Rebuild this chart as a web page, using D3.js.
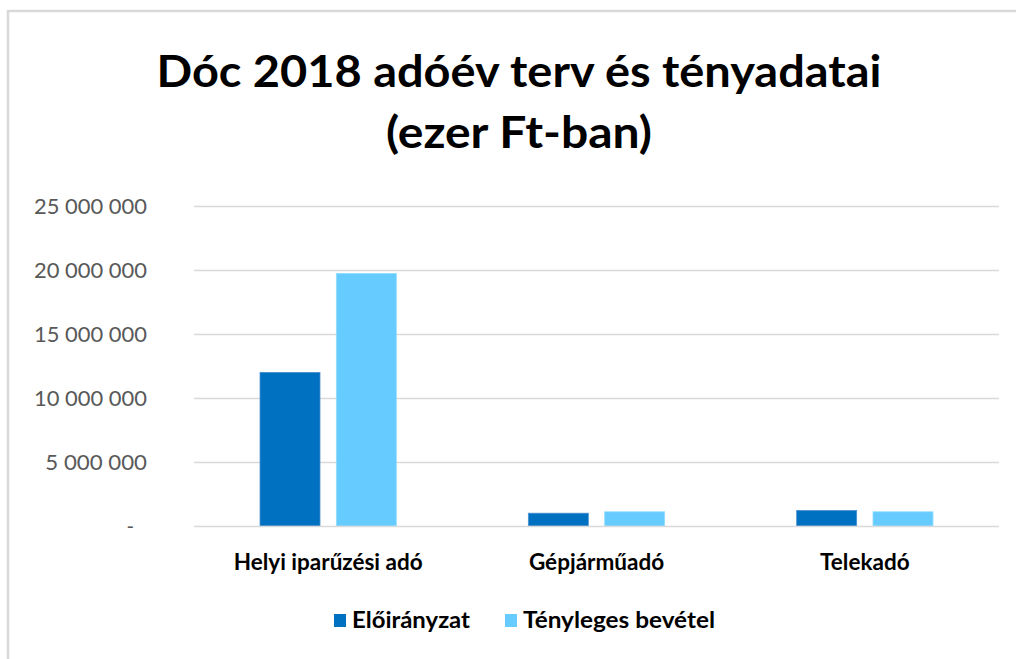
<!DOCTYPE html>
<html>
<head>
<meta charset="utf-8">
<script src="https://cdn.jsdelivr.net/npm/d3@7"></script>
<style>
  html, body { margin: 0; padding: 0; background: #fff; }
  svg { display: block; }
  text { font-family: Lato, "Open Sans", sans-serif; }
</style>
</head>
<body>
<svg id="chart" width="1016" height="659"></svg>
<script>
const categories = ["Helyi iparűzési adó", "Gépjárműadó", "Telekadó"];
const seriesNames = ["Előirányzat", "Tényleges bevétel"];
const eloiranyzat = [12000000, 1000000, 1210000];
const tenyleges = [19730000, 1110000, 1110000];
const yTicks = [0, 5000000, 10000000, 15000000, 20000000, 25000000];
const colors = ["#0070c0", "#66ccff"];
const titleLines = ["Dóc 2018 adóév terv és tényadatai", "(ezer Ft-ban)"];

const svg = d3.select("#chart");
const W = 1016, H = 659;
const plot = { left: 194, right: 999, top: 206, bottom: 526 };

// frame
svg.append("rect").attr("x", 8).attr("y", 11).attr("width", W + 20).attr("height", H + 20)
  .attr("fill", "#fff").attr("stroke", "#d9d9d9").attr("stroke-width", 2.5);

// title
const title = svg.append("g");
title.append("text").attr("x", 519).attr("y", 87).attr("text-anchor", "middle")
  .attr("font-size", 44).attr("font-weight", 700).attr("fill", "#000")
  .attr("textLength", 725).attr("lengthAdjust", "spacingAndGlyphs")
  .text(titleLines[0]);
title.append("text").attr("x", 519).attr("y", 148).attr("text-anchor", "middle")
  .attr("font-size", 44).attr("font-weight", 700).attr("fill", "#000")
  .attr("textLength", 266).attr("lengthAdjust", "spacingAndGlyphs")
  .text(titleLines[1]);

const y = d3.scaleLinear().domain([0, 25000000]).range([plot.bottom, plot.top]);
const x0 = d3.scaleBand().domain(categories).range([plot.left, plot.right])
  .paddingInner(0.492).paddingOuter(0.246);
const x1 = d3.scaleBand().domain(seriesNames).range([0, x0.bandwidth()])
  .paddingInner(0.214).paddingOuter(0);

const loc = d3.formatLocale({ decimal: ",", thousands: " ", grouping: [3], currency: ["", ""] });
const fmt = loc.format(",d");

// gridlines
svg.append("g").selectAll("line").data(yTicks.filter(d => d > 0)).join("line")
  .attr("x1", plot.left).attr("x2", plot.right)
  .attr("y1", d => Math.round(y(d)) + 0.5).attr("y2", d => Math.round(y(d)) + 0.5)
  .attr("stroke", "#d9d9d9").attr("stroke-width", 1.3);

// y axis labels
const yAxis = d3.axisLeft(y).tickValues(yTicks).tickSize(0).tickPadding(0)
  .tickFormat(d => d === 0 ? "-" : fmt(d));
const ya = svg.append("g").attr("transform", `translate(147,0)`).call(yAxis);
ya.select(".domain").remove();
ya.selectAll("text").attr("font-size", 20.5).attr("fill", "#595959")
  .attr("font-family", "Lato, 'Open Sans', sans-serif")
  .attr("dx", d => d === 0 ? -13 : 0)
  .attr("dy", "0.35em")
  .each(function (d) {
    if (d !== 0) {
      d3.select(this).attr("textLength", fmt(d).length * 11.3).attr("lengthAdjust", "spacingAndGlyphs");
    }
  });

// bars
const data = categories.map((c, i) => ({ cat: c, vals: [eloiranyzat[i], tenyleges[i]] }));
const groups = svg.append("g").selectAll("g").data(data).join("g")
  .attr("transform", d => `translate(${x0(d.cat)},0)`);
groups.selectAll("rect").data(d => d.vals.map((v, j) => ({ s: seriesNames[j], v, j }))).join("rect")
  .attr("x", d => x1(d.s)).attr("width", x1.bandwidth())
  .attr("y", d => y(d.v)).attr("height", d => y(0) - y(d.v))
  .attr("fill", d => colors[d.j])
  .attr("stroke", d => d.j === 0 ? "#4a90d0" : "#8fdcff").attr("stroke-width", 0.8);

// x axis line
svg.append("line").attr("x1", plot.left).attr("x2", plot.right)
  .attr("y1", plot.bottom + 0.5).attr("y2", plot.bottom + 0.5)
  .attr("stroke", "#d9d9d9").attr("stroke-width", 1.5);

// category labels
const xAxis = d3.axisBottom(x0).tickSize(0).tickPadding(0);
const xa = svg.append("g").attr("transform", `translate(0,${plot.bottom})`).call(xAxis);
xa.select(".domain").remove();
xa.selectAll("text").attr("font-size", 22.5).attr("font-weight", 700).attr("fill", "#000")
  .attr("font-family", "Lato, 'Open Sans', sans-serif")
  .attr("dy", 0).attr("y", 44);

// legend
const legendX = [334, 505];
const legendLen = [118, 192];
const leg = svg.append("g").selectAll("g").data(seriesNames).join("g")
  .attr("transform", (d, i) => `translate(${legendX[i]},614)`);
leg.append("rect").attr("width", 12).attr("height", 13).attr("fill", (d, i) => colors[i]);
leg.append("text").attr("x", 18).attr("y", 14).attr("font-size", 22).attr("font-weight", 700)
  .attr("fill", "#000").attr("textLength", (d, i) => legendLen[i]).attr("lengthAdjust", "spacingAndGlyphs")
  .text(d => d);
</script>
</body>
</html>
